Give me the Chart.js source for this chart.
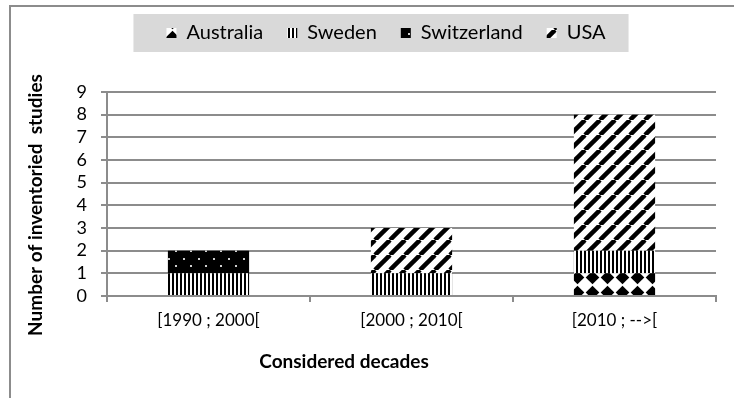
<!DOCTYPE html>
<html>
<head>
<meta charset="utf-8">
<script src="https://cdn.jsdelivr.net/npm/chart.js@4/dist/chart.umd.min.js"></script>
<style>
  html, body { margin: 0; padding: 0; background: #fff; }
  #wrap { width: 734px; height: 398px; }
</style>
</head>
<body>
<div id="wrap"><canvas id="c" width="734" height="398"></canvas></div>
<script>
// Studies per decade and country
const decades = ['[1990 ; 2000[', '[2000 ; 2010[', '[2010 ; -->['];
const australia = [0, 0, 1];
const sweden = [1, 1, 1];
const switzerland = [1, 0, 0];
const usa = [0, 2, 6];
const countries = ['Australia', 'Sweden', 'Switzerland', 'USA'];
const yTickValues = [0, 1, 2, 3, 4, 5, 6, 7, 8, 9];
const xTitle = 'Considered decades';
const yTitle = 'Number of inventoried  studies';

const FONT = 'Lato, "Open Sans", sans-serif';
const GRID = '#8c8c8c';

const canvas = document.getElementById('c');
const ctx = canvas.getContext('2d');

// Monochrome fill patterns, one per country
function makePattern(w, h, paint) {
  const t = document.createElement('canvas');
  t.width = w; t.height = h;
  const g = t.getContext('2d');
  paint(g, w, h);
  return ctx.createPattern(t, 'repeat');
}

const diamondFill = makePattern(15, 15, (g, w, h) => {
  g.fillStyle = '#fff'; g.fillRect(0, 0, w, h);
  g.fillStyle = '#000';
  g.beginPath();
  g.moveTo(7.5, 0.7); g.lineTo(14.3, 7.5); g.lineTo(7.5, 14.3); g.lineTo(0.7, 7.5);
  g.closePath(); g.fill();
});

const verticalFill = makePattern(4, 4, (g, w, h) => {
  g.fillStyle = '#fff'; g.fillRect(0, 0, w, h);
  g.fillStyle = '#000'; g.fillRect(0, 0, 2, h);
});

const dottedFill = makePattern(15, 15, (g, w, h) => {
  g.fillStyle = '#000'; g.fillRect(0, 0, w, h);
  g.fillStyle = '#cfcfcf';
  g.fillRect(3, 3, 2, 2);
  g.fillRect(10, 10, 2, 2);
});

const diagonalFill = makePattern(15, 15, (g, w, h) => {
  g.fillStyle = '#fff'; g.fillRect(0, 0, w, h);
  g.strokeStyle = '#000'; g.lineWidth = 4.5;
  for (const k of [-15, 0, 15]) {
    g.beginPath(); g.moveTo(k, 15); g.lineTo(k + 15, 0); g.stroke();
  }
});

const fills = [diamondFill, verticalFill, dottedFill, diagonalFill];
const seriesValues = [australia, sweden, switzerland, usa];

// Outer frame, legend panel and axis titles
const decorations = {
  id: 'decorations',
  beforeInit(chart) {
    const legend = chart.legend;
    const fit = legend.fit;
    legend.fit = function () {
      fit.call(this);
      this.height = 92;
    };
  },
  afterLayout(chart) {
    const legend = chart.legend;
    legend.left += 28; legend.right += 28;
    legend.top -= 1;
  },
  beforeDraw(chart) {
    const c = chart.ctx;
    c.save();
    c.fillStyle = '#fff';
    c.fillRect(0, 0, chart.width, chart.height);
    c.strokeStyle = GRID; c.lineWidth = 2;
    c.beginPath();
    c.moveTo(10, chart.height); c.lineTo(10, 6); c.lineTo(chart.width, 6);
    c.stroke();
    const hb = chart.legend.legendHitBoxes;
    if (hb && hb.length) {
      const first = hb[0], last = hb[hb.length - 1];
      const mid = first.top + first.height / 2;
      c.fillStyle = '#d9d9d9';
      c.fillRect(first.left - 33, mid - 19, (last.left + last.width + 23) - (first.left - 33), 38);
    }
    c.restore();
  },
  afterDraw(chart) {
    const c = chart.ctx;
    const a = chart.chartArea;
    c.save();
    c.fillStyle = '#000';
    c.font = 'bold 19px ' + FONT;
    c.textAlign = 'center';
    c.textBaseline = 'middle';
    c.fillText(xTitle, a.left + 237, a.bottom + 66);
    c.translate(36, (a.top + a.bottom) / 2 + 11);
    c.rotate(-Math.PI / 2);
    c.fillText(yTitle, 0, 0);
    c.restore();
  }
};

new Chart(ctx, {
  type: 'bar',
  data: {
    labels: decades,
    datasets: countries.map((name, i) => ({
      label: name,
      data: seriesValues[i],
      backgroundColor: fills[i],
      borderWidth: 0,
      borderColor: 'rgba(0,0,0,0)',
      barPercentage: 0.4,
      categoryPercentage: 1.0
    }))
  },
  options: {
    responsive: false,
    animation: false,
    events: [],
    layout: { padding: { left: 0, right: 18, top: 0, bottom: 0 } },
    plugins: {
      tooltip: { enabled: false },
      legend: {
        position: 'top',
        labels: {
          color: '#000',
          font: { family: FONT, size: 20 },
          boxWidth: 10,
          boxHeight: 10,
          padding: 24
        }
      }
    },
    scales: {
      x: {
        stacked: true,
        afterFit(scale) { scale.height = 102; },
        grid: { drawOnChartArea: false, drawTicks: true, tickLength: 6, color: GRID, lineWidth: 2, offset: true },
        border: { display: true, color: GRID, width: 2 },
        ticks: { color: '#000', font: { family: FONT, size: 17 }, padding: 8, maxRotation: 0 }
      },
      y: {
        stacked: true,
        min: 0,
        max: 9,
        afterFit(scale) { scale.width = 107; },
        afterBuildTicks(scale) { scale.ticks = yTickValues.map(v => ({ value: v })); },
        grid: { drawOnChartArea: true, drawTicks: true, tickLength: 6, color: GRID, lineWidth: 2 },
        border: { display: true, color: GRID, width: 2 },
        ticks: { color: '#000', font: { family: FONT, size: 18 }, padding: 14, autoSkip: false, stepSize: 1 }
      }
    }
  },
  plugins: [decorations]
});
</script>
</body>
</html>
